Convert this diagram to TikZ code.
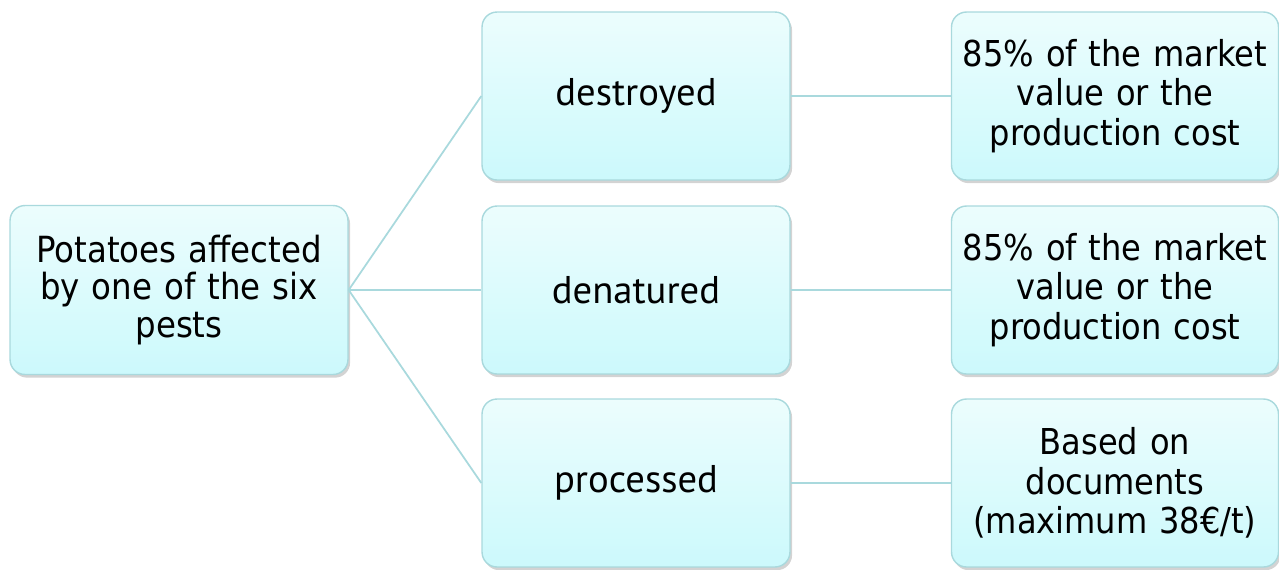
\documentclass[tikz,border=0pt]{standalone}
\usepackage{fontspec}
\setmainfont{DejaVu Sans Condensed}
\newfontfamily\midfont{PT Sans}
\usepackage{tikz}
\usetikzlibrary{positioning, shadows}

\definecolor{boxline}{HTML}{A9D9DD}
\definecolor{boxtop}{HTML}{ECFDFD}
\definecolor{boxbot}{HTML}{CCF9FC}

\begin{document}
\begin{tikzpicture}[x=0.02cm, y=-0.02cm,
    box/.style={rounded corners=0.3cm, draw=boxline, line width=0.8pt,
      top color=boxtop, bottom color=boxbot, align=center,
      minimum height=3.36cm, inner sep=2pt,
      drop shadow={shadow xshift=1.2pt, shadow yshift=-1.8pt, opacity=0.35, fill=gray}},
    rootbox/.style={box, text width=6.6cm, minimum width=6.76cm, minimum height=3.38cm,
      font=\fontsize{20.5}{21.5}\selectfont},
    casebox/.style={box, minimum width=6.16cm, font=\midfont\fontsize{22}{24}\selectfont},
    payout/.style={box, text width=6.4cm, minimum width=6.48cm,
      font=\fontsize{20.3}{22.5}\selectfont},
    link/.style={boxline, line width=1pt}
  ]
  \useasboundingbox (0,0) rectangle (1279,569);

  % Starting point
  \node[rootbox] (pot) at (179, 290) {Potatoes affected\\by one of the six\\pests};

  % What happens to the potatoes
  \node[casebox] (dest) at (636, 96) {destroyed};
  \node[casebox] (den) at (636, 290) {denatured};
  \node[casebox] (proc) at (636, 483) {processed};

  % Compensation
  \node[payout] (c1) at (1115, 96) {85\% of the market\\value or the\\production cost};
  \node[payout] (c2) at (1115, 290) {85\% of the market\\value or the\\production cost};
  \node[payout] (c3) at (1115, 483) {Based on\\documents\\(maximum 38€/t)};

  % Connectors
  \foreach \m/\c in {dest/c1, den/c2, proc/c3} {
    \draw[link] (pot.east) -- (\m.west);
    \draw[link] (\m.east) -- (\c.west);
  }
\end{tikzpicture}
\end{document}
